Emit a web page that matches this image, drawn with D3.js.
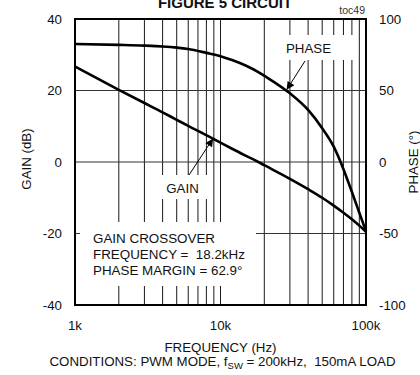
<!DOCTYPE html>
<html>
<head>
<meta charset="utf-8">
<script src="https://cdn.jsdelivr.net/npm/d3@7"></script>
<style>
  html, body { margin: 0; padding: 0; background: #fff; }
  svg { display: block; }
  text { font-family: "Liberation Sans", Arial, Helvetica, sans-serif; fill: #111; }
</style>
</head>
<body>
<svg id="chart" width="420" height="375"></svg>
<script>
// Loop gain / phase of the regulator, Figure 5 circuit
const freqs = [1000, 2000, 3000, 4000, 5000, 6000, 8000, 10000, 12000, 15000, 18200,
               20000, 30000, 40000, 50000, 60000, 70000, 80000, 90000, 100000];
const gainDb = [26.7, 20.2, 16.5, 13.9, 11.8, 10.1, 7.5, 5.4, 3.7, 1.7, 0,
                -0.9, -4.7, -7.6, -10.0, -12.2, -14.2, -16.0, -17.8, -19.5];
const phaseDeg = [82.5, 81.9, 81.4, 80.8, 80.0, 79.0, 76.3, 74.0, 71.3, 67.3, 62.9,
                  60.3, 48.0, 36.4, 23.6, 10.7, -5.0, -21.0, -35.5, -48.5];

const gainTicks = [-40, -20, 0, 20, 40];
const phaseTicks = [-100, -50, 0, 50, 100];
const freqTickLabels = [[1000, "1k"], [10000, "10k"], [100000, "100k"]];

const svg = d3.select("#chart");
const L = 75, R = 366, T = 19, B = 305;

const x = d3.scaleLog().domain([1000, 100000]).range([L, R]);
const yG = d3.scaleLinear().domain([-40, 40]).range([B, T]);
const yP = d3.scaleLinear().domain([-100, 100]).range([B, T]);

// log grid: every integer multiple within each decade
const gridFreqs = x.ticks().filter(f => f > 1000 && f < 100000);
svg.append("g").selectAll("line").data(gridFreqs).join("line")
  .attr("x1", d => x(d)).attr("x2", d => x(d))
  .attr("y1", T).attr("y2", B)
  .attr("stroke", "#1a1a1a").attr("stroke-width", 1);

svg.append("g").selectAll("line").data(gainTicks.slice(1, -1)).join("line")
  .attr("x1", L).attr("x2", R)
  .attr("y1", d => yG(d)).attr("y2", d => yG(d))
  .attr("stroke", "#333").attr("stroke-width", 1);

// white label boxes over the grid
const boxes = [
  {x: 282, y: 35, w: 72, h: 25},
  {x: 150, y: 175, w: 60, h: 24},
  {x: 80, y: 222, w: 176, h: 64}
];
svg.append("g").selectAll("rect").data(boxes).join("rect")
  .attr("x", d => d.x).attr("y", d => d.y).attr("width", d => d.w).attr("height", d => d.h)
  .attr("fill", "#fff");

// curves
const gainLine = d3.line().x((d, i) => x(freqs[i])).y(d => yG(d)).curve(d3.curveMonotoneX);
const phaseLine = d3.line().x((d, i) => x(freqs[i])).y(d => yP(d)).curve(d3.curveMonotoneX);
svg.append("path").attr("d", gainLine(gainDb))
  .attr("fill", "none").attr("stroke", "#000").attr("stroke-width", 2.6);
svg.append("path").attr("d", phaseLine(phaseDeg))
  .attr("fill", "none").attr("stroke", "#000").attr("stroke-width", 2.6);

// frame
svg.append("rect").attr("x", L).attr("y", T).attr("width", R - L).attr("height", B - T)
  .attr("fill", "none").attr("stroke", "#000").attr("stroke-width", 2);

// pointer arrows
svg.append("defs").append("marker")
  .attr("id", "head").attr("viewBox", "0 0 10 10").attr("refX", 10).attr("refY", 5)
  .attr("markerWidth", 10).attr("markerHeight", 8).attr("markerUnits", "userSpaceOnUse")
  .attr("orient", "auto")
  .append("path").attr("d", "M0,0 L10,5 L0,10 Z").attr("fill", "#000");

function pointer(x1, y1, f, yv, scale) {
  svg.append("line")
    .attr("x1", x1).attr("y1", y1)
    .attr("x2", x(f)).attr("y2", scale(yv))
    .attr("stroke", "#000").attr("stroke-width", 1)
    .attr("marker-end", "url(#head)");
}
pointer(305, 61, 28500, 50.5, yP);
pointer(189, 175, 8900, 6.6, yG);

// curve labels
svg.append("text").attr("x", 308.5).attr("y", 53.3).attr("text-anchor", "middle")
  .style("font-size", "13.3px").text("PHASE");
svg.append("text").attr("x", 182.5).attr("y", 193.3).attr("text-anchor", "middle")
  .style("font-size", "13.3px").text("GAIN");

const notes = ["GAIN CROSSOVER", "FREQUENCY =  18.2kHz", "PHASE MARGIN = 62.9°"];
svg.append("g").selectAll("text").data(notes).join("text")
  .attr("x", 93).attr("y", (d, i) => 242.7 + i * 16.2)
  .style("font-size", "13.4px").style("white-space", "pre")
  .text(d => d);

// axis labels
svg.append("g").selectAll("text").data(gainTicks).join("text")
  .attr("x", 62).attr("y", d => yG(d) + 4.8).attr("text-anchor", "end")
  .style("font-size", "13.3px").text(d => d);
svg.append("g").selectAll("text").data(phaseTicks).join("text")
  .attr("x", 379).attr("y", d => yP(d) + 4.8).attr("text-anchor", "start")
  .style("font-size", "13.3px").text(d => d);
svg.append("g").selectAll("text").data(freqTickLabels).join("text")
  .attr("x", d => x(d[0])).attr("y", 329.5).attr("text-anchor", "middle")
  .style("font-size", "13.3px").text(d => d[1]);

svg.append("text").attr("transform", "translate(30.5,159) rotate(-90)")
  .attr("text-anchor", "middle").style("font-size", "13.3px").text("GAIN (dB)");
svg.append("text").attr("transform", "translate(417.5,162) rotate(-90)")
  .attr("text-anchor", "middle").style("font-size", "13.3px").text("PHASE (°)");

svg.append("text").attr("x", (L + R) / 2).attr("y", 351.5).attr("text-anchor", "middle")
  .style("font-size", "13.3px").text("FREQUENCY (Hz)");

const cond = svg.append("text").attr("x", 222.5).attr("y", 365.5).attr("text-anchor", "middle")
  .style("font-size", "13.3px").style("white-space", "pre");
cond.append("tspan").text("CONDITIONS: PWM MODE, f");
cond.append("tspan").attr("dy", 3).style("font-size", "9.5px").text("SW");
cond.append("tspan").attr("dy", -3).text(" = 200kHz,  150mA LOAD");

// title and figure tag
svg.append("text").attr("x", 225).attr("y", 7.5).attr("text-anchor", "middle")
  .style("font-size", "15px").style("font-weight", "bold").text("FIGURE 5 CIRCUIT");
svg.append("text").attr("x", 365).attr("y", 14).attr("text-anchor", "end")
  .style("font-size", "10.5px").style("fill", "#333").text("toc49");
</script>
</body>
</html>
